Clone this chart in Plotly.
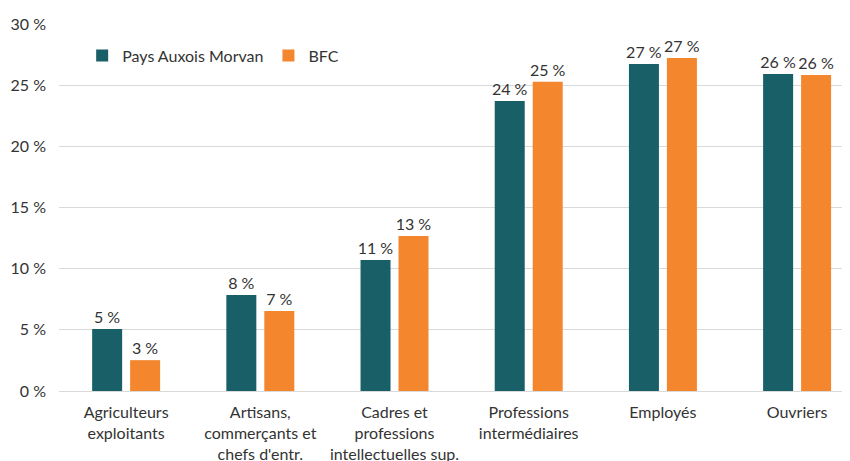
import plotly.graph_objects as go

categories = ["Agriculteurs<br>exploitants", "Artisans,<br>commerçants et<br>chefs d'entr.",
              "Cadres et<br>professions<br>intellectuelles sup.", "Professions<br>intermédiaires",
              "Employés", "Ouvriers"]
pays_auxois = [5.07, 7.85, 10.71, 23.71, 26.74, 25.92]
bfc = [2.52, 6.54, 12.67, 25.27, 27.23, 25.84]
y_ticks = [0, 5, 10, 15, 20, 25, 30]
y_ticklabels = ["0 %", "5 %", "10 %", "15 %", "20 %", "25 %", "30 %"]

teal = "#185F67"
orange = "#F4862D"
font = "Lato, 'Open Sans', sans-serif"
txtcol = "#333333"

fig = go.Figure()
fig.add_trace(go.Bar(x=categories, y=pays_auxois, name="Pays Auxois Morvan",
                     marker=dict(color=teal, line=dict(width=0)),
                     width=0.2235, offset=-0.253,
                     texttemplate="%{y:.0f} %", textposition="outside", constraintext="none",
                     textfont=dict(size=16, color=txtcol, family=font), cliponaxis=False))
fig.add_trace(go.Bar(x=categories, y=bfc, name="BFC",
                     marker=dict(color=orange, line=dict(width=0)),
                     width=0.2235, offset=0.030,
                     texttemplate="%{y:.0f} %", textposition="outside", constraintext="none",
                     textfont=dict(size=16, color=txtcol, family=font), cliponaxis=False))

fig.update_layout(
    width=850, height=461,
    margin=dict(l=51, r=0, t=16, b=78, autoexpand=False),
    paper_bgcolor="white", plot_bgcolor="white",
    font=dict(family=font, size=16, color=txtcol),
    barmode="group",
    showlegend=True,
    legend=dict(orientation="h", x=0.029, y=0.96, xanchor="left", yanchor="top",
                font=dict(size=16, color=txtcol), bgcolor="rgba(0,0,0,0)",
                itemwidth=30, tracegroupgap=0),
    xaxis=dict(range=[-0.5, 5.454], showgrid=False, showline=False, ticks="",
               automargin=False, tickfont=dict(size=16, color=txtcol), ticklabelstandoff=10),
    yaxis=dict(range=[0, 30], tickvals=y_ticks, ticktext=y_ticklabels,
               showgrid=True, gridcolor="#D9D9D9", gridwidth=1, zeroline=True,
               zerolinecolor="#D9D9D9", zerolinewidth=1, showline=False, ticks="",
               automargin=False, tickfont=dict(size=16, color=txtcol), ticklabelstandoff=12),
)

fig.write_html("out.html")
